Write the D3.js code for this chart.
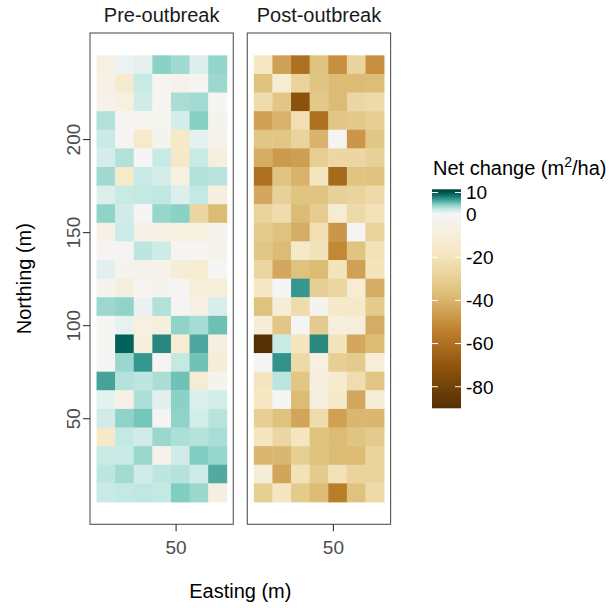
<!DOCTYPE html>
<html>
<head>
<meta charset="utf-8">
<script src="https://cdn.jsdelivr.net/npm/d3@7"></script>
<style>
  body { margin: 0; background: #fff; }
  svg { font-family: "Liberation Sans", Arial, sans-serif; }
</style>
</head>
<body>
<svg id="chart" width="612" height="608"></svg>
<script>
// grid cell centres (m)
var easting = [12.5, 22.5, 32.5, 42.5, 52.5, 62.5, 72.5];
var northing = [240, 230, 220, 210, 200, 190, 180, 170, 160, 150, 140, 130,
                120, 110, 100, 90, 80, 70, 60, 50, 40, 30, 20, 10];
var panels = ["Pre-outbreak", "Post-outbreak"];

// net change (m2/ha), one row per northing, one column per easting
var preValues = [
  [-7, 0.5, 0.8, 4.3, 3.6, 1.2, 4],
  [-6, -14, 2.3, -1, -4, -1, 3.7],
  [-4, -7, 1.8, -2, 3.3, 3.5, -0.5],
  [3, -1, -2, -2, 1.6, 4.4, -3],
  [2.2, -1, -15, -3, -17, 0.8, -4],
  [1.6, 3, 0, 2.3, -16, 2.3, -8],
  [3.6, -15, 2.2, 1.7, -7, 3, 2.8],
  [1.2, 2.3, 2.4, 2.5, 1.2, 2.4, -8],
  [4.1, 1.8, 0, 3.9, 4.3, -27, -38],
  [-6, 2.1, -5, -6, -7, -7, -3],
  [-1, -1, 2.6, 2, -1, -1, -4],
  [1, -3, -4, -4, -11, -13, -0.5],
  [-3, -9, -2, -3, -1, -10, -10],
  [3.7, 4.1, 0.6, 3, -1, -6, 1.5],
  [-0.5, 0.7, -7, -8, 4.1, 3.4, 5.2],
  [-0.5, 9.4, -9, 7.6, -12, 6.2, -8],
  [-0.5, 3.8, 6.9, -1, 2.4, 5.1, -11],
  [6.4, 2.9, 2.6, 3.3, 5.1, -12, -3],
  [0.9, -6, 3.2, 1, 4.3, 1.3, 1.7],
  [1.8, 4.1, 4.9, -1, 4.1, 1.7, 2.8],
  [-16, 2.4, 1.8, 3.8, 3.2, 2.9, 3.3],
  [2.3, 2.3, 3.8, -4, 1.8, 4.6, 3.9],
  [2.6, 3.5, 1.8, 2.6, 2.9, 2, 6.1],
  [2.3, 2.4, 2.5, 2.4, 4.6, 3.8, -8]
];
var postValues = [
  [-18, -45, -60, -36, -50, -28, -50],
  [-36, -13, -28, -35, -38, -38, -37],
  [-24, -34, -72, -33, -38, -26, -25],
  [-45, -40, -22, -60, -34, -33, -30],
  [-34, -34, -28, -40, -1, -48, -34],
  [-42, -47, -46, -30, -26, -26, -29],
  [-60, -35, -40, -19, -63, -35, -36],
  [-43, -29, -35, -35, -29, -28, -25],
  [-28, -24, -38, -31, -13, -25, -21],
  [-32, -36, -42, -22, -48, -1, -28],
  [-34, -38, -16, -21, -52, -35, -21],
  [-27, -43, -36, -38, -20, -45, -20],
  [-18, -0.5, 6.9, -30, -27, -12, -42],
  [-36, -11, -24, -3, -16, -16, -32],
  [-11, -34, -1, -32, -8, -9, -42],
  [-90, 2.3, -19, 7.5, -20, -43, -38],
  [0, 7.1, -25, -7, -30, -32, -10],
  [-19, 2.7, -34, -8, -14, -23, -34],
  [-18, -0.5, -38, -9, -16, -43, -11],
  [-30, -36, -44, -24, -45, -39, -39],
  [-19, -26, -19, -36, -38, -35, -32],
  [-39, -39, -30, -36, -38, -38, -28],
  [-11, -44, -21, -32, -21, -28, -28],
  [-30, -19, -32, -38, -56, -36, -25]
];

var fillLimits = [-90, 11.5];
var yTicks = [50, 100, 150, 200];
var xTicks = [50];
var legendTicks = [10, 0, -20, -40, -60, -80];

var svg = d3.select("#chart");
var panel_top = 33, panel_bottom = 524.3, panel_w = 143.3;
var panel_left = [90, 247.3];

var x_scale = d3.scaleLinear().domain([4, 81]).range([0, panel_w]);
var y_scale = d3.scaleLinear().domain([-7, 257]).range([panel_bottom, panel_top]);

// BrBG ramp, white pinned at zero
var brbg = ["#543005","#8c510a","#bf812d","#dfc27d","#f6e8c3","#f5f5f5",
            "#c7eae5","#80cdc1","#35978f","#01665e","#003c30"];
var lo = fillLimits[0], hi = fillLimits[1];
var stops = d3.range(6).map(i => lo + (0 - lo) * i / 5)
  .concat(d3.range(1, 6).map(i => hi * i / 5));
var color = d3.scaleLinear().domain(stops).range(brbg).interpolate(d3.interpolateLab);

[preValues, postValues].forEach(function(values, p) {
  var g = svg.append("g").attr("transform", "translate(" + panel_left[p] + ",0)");
  var cells = [];
  values.forEach(function(row, i) {
    row.forEach(function(v, j) {
      cells.push({e: easting[j], n: northing[i], v: v});
    });
  });
  g.selectAll("rect.cell")
    .data(cells)
    .enter().append("rect")
    .attr("class", "cell")
    .attr("x", d => x_scale(d.e - 5))
    .attr("y", d => y_scale(d.n + 5))
    .attr("width", d => x_scale(d.e + 5) - x_scale(d.e - 5) + 0.4)
    .attr("height", d => y_scale(d.n - 5) - y_scale(d.n + 5) + 0.4)
    .style("fill", d => color(d.v));

  g.append("rect")
    .attr("x", 0).attr("y", panel_top)
    .attr("width", panel_w).attr("height", panel_bottom - panel_top)
    .style("fill", "none").style("stroke", "#555").style("stroke-width", 1.1);

  // strip title
  g.append("text")
    .attr("x", panel_w / 2).attr("y", 22)
    .attr("text-anchor", "middle")
    .style("font-size", "20px").style("fill", "#1a1a1a")
    .text(panels[p]);

  // x axis
  var xa = g.append("g")
    .attr("transform", "translate(0," + panel_bottom + ")")
    .call(d3.axisBottom(x_scale).tickValues(xTicks).tickSize(7).tickFormat(d3.format("d")));
  xa.select(".domain").remove();
  xa.selectAll("line").style("stroke", "#333").style("stroke-width", 1.1);
  xa.selectAll("text")
    .attr("y", 29.7).attr("dy", 0)
    .style("font-size", "19px").style("fill", "#4d4d4d")
    .style("font-family", "Liberation Sans, Arial, sans-serif");

  if (p == 0) {
    var ya = g.append("g")
      .call(d3.axisLeft(y_scale).tickValues(yTicks).tickSize(7).tickFormat(d3.format("d")));
    ya.select(".domain").remove();
    ya.selectAll("line").style("stroke", "#333").style("stroke-width", 1.1);
    ya.selectAll("text")
      .attr("x", 0).attr("y", -10).attr("dy", 0)
      .attr("transform", "rotate(-90)")
      .attr("text-anchor", "middle")
      .style("font-size", "19px").style("fill", "#4d4d4d")
      .style("font-family", "Liberation Sans, Arial, sans-serif");
  }
});

// axis titles
svg.append("text")
  .attr("x", 240.3).attr("y", 598)
  .attr("text-anchor", "middle")
  .style("font-size", "20px")
  .text("Easting (m)");
svg.append("text")
  .attr("transform", "translate(31," + ((panel_top + panel_bottom) / 2) + ") rotate(-90)")
  .attr("text-anchor", "middle")
  .style("font-size", "20px")
  .text("Northing (m)");

// legend
var leg_x = 432, leg_w = 29;
var leg_scale = d3.scaleLinear().domain(fillLimits).range([408.3, 189.3]);
var grad = svg.append("defs").append("linearGradient")
  .attr("id", "fillgrad")
  .attr("x1", 0).attr("y1", 1).attr("x2", 0).attr("y2", 0);
var n_stops = 80;
grad.selectAll("stop")
  .data(d3.range(n_stops + 1))
  .enter().append("stop")
  .attr("offset", d => d / n_stops)
  .attr("stop-color", d => color(lo + (hi - lo) * d / n_stops));

svg.append("rect")
  .attr("x", leg_x).attr("y", leg_scale(hi))
  .attr("width", leg_w).attr("height", leg_scale(lo) - leg_scale(hi))
  .style("fill", "url(#fillgrad)");

var lt = svg.append("g").selectAll("g")
  .data(legendTicks)
  .enter().append("g")
  .attr("transform", d => "translate(0," + leg_scale(d) + ")");
lt.append("line")
  .attr("x1", leg_x).attr("x2", leg_x + 6)
  .style("stroke", "#fff").style("stroke-width", 1);
lt.append("line")
  .attr("x1", leg_x + leg_w - 6).attr("x2", leg_x + leg_w)
  .style("stroke", "#fff").style("stroke-width", 1);
lt.append("text")
  .attr("x", 466).attr("dy", "0.36em")
  .style("font-size", "19px")
  .text(d => d);

var title = svg.append("text")
  .attr("x", 433).attr("y", 175)
  .style("font-size", "20px");
title.append("tspan").text("Net change (m");
title.append("tspan").attr("dy", -8).style("font-size", "14px").text("2");
title.append("tspan").attr("dy", 8).text("/ha)");
</script>
</body>
</html>
